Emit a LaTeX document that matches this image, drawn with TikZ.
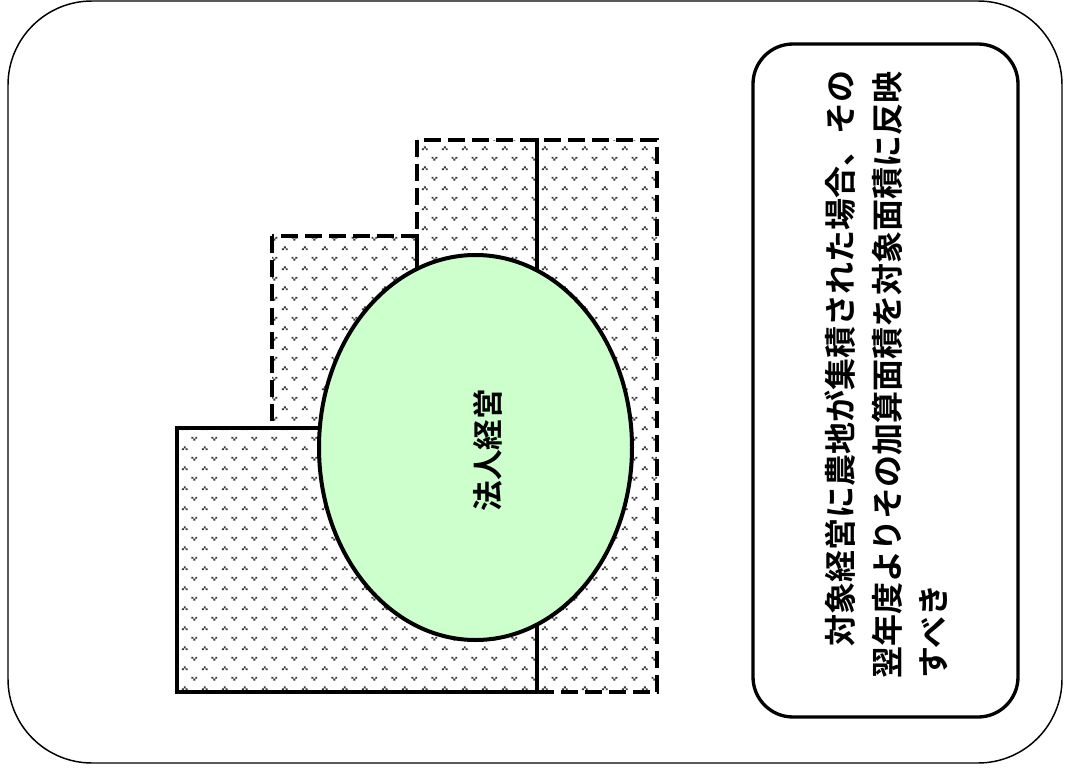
\documentclass[tikz,border=0pt]{standalone}
\usepackage{fontspec}
\newfontfamily\jp{Noto Sans CJK JP}[UprightFont=* Bold]
\usetikzlibrary{patterns}
\pgfdeclarepatternformonly{chev}{\pgfpointorigin}{\pgfpoint{15pt}{15pt}}{\pgfpoint{15pt}{15pt}}{%
  \pgfpathrectangle{\pgfpoint{3.0pt}{4.5pt}}{\pgfpoint{1.5pt}{1.5pt}}%
  \pgfpathrectangle{\pgfpoint{1.5pt}{3.0pt}}{\pgfpoint{1.5pt}{1.5pt}}%
  \pgfpathrectangle{\pgfpoint{4.5pt}{3.0pt}}{\pgfpoint{1.5pt}{1.5pt}}%
  \pgfpathrectangle{\pgfpoint{9.0pt}{12.0pt}}{\pgfpoint{1.5pt}{1.5pt}}%
  \pgfpathrectangle{\pgfpoint{12.0pt}{12.0pt}}{\pgfpoint{1.5pt}{1.5pt}}%
  \pgfpathrectangle{\pgfpoint{10.5pt}{10.5pt}}{\pgfpoint{1.5pt}{1.5pt}}%
  \pgfusepath{fill}%
}
\definecolor{lgreen}{HTML}{CCFFCC}
\tikzset{
  field/.style={pattern=chev, pattern color=black!80},
  dashedfield/.style={field, draw=black, line width=2.6pt, dash pattern=on 13pt off 5pt},
  solidfield/.style={field, draw=black, line width=2.5pt},
  jptext/.style={font=\jp\fontsize{24}{30}\selectfont, inner sep=0pt, rotate=90, anchor=base west},
}
\begin{document}
\begin{tikzpicture}[x=0.75pt, y=-0.75pt]
\useasboundingbox (0,0) rectangle (1071,774);
% outer frame
\draw[line width=1.1pt, rounded corners=63pt] (8,1) rectangle (1062,763);
% fields
\path[dashedfield] (272,236) rectangle (417,428);
\path[dashedfield] (417,140) rectangle (537,428);
\path[dashedfield] (537,140) rectangle (657,692);
\path[solidfield] (177,428) rectangle (537,692);
% corporate management
\draw[line width=3pt, fill=lgreen] (475.5,447.5) ellipse [x radius=156.5, y radius=192.5];
\node[jptext, anchor=center, font=\jp\fontsize{23}{28}\selectfont] (corp) at (488,450) {法人経営};
% text box
\draw[line width=2.5pt, rounded corners=30pt] (753,44) rectangle (1018,717);
\node[jptext] (l1) at (852,679) {\hspace*{24pt}対象経営に農地が集積された場合、その};
\node[jptext] (l2) at (899,679) {翌年度よりその加算面積を対象面積に反映};
\node[jptext] (l3) at (945,679) {すべき};
\end{tikzpicture}
\end{document}
